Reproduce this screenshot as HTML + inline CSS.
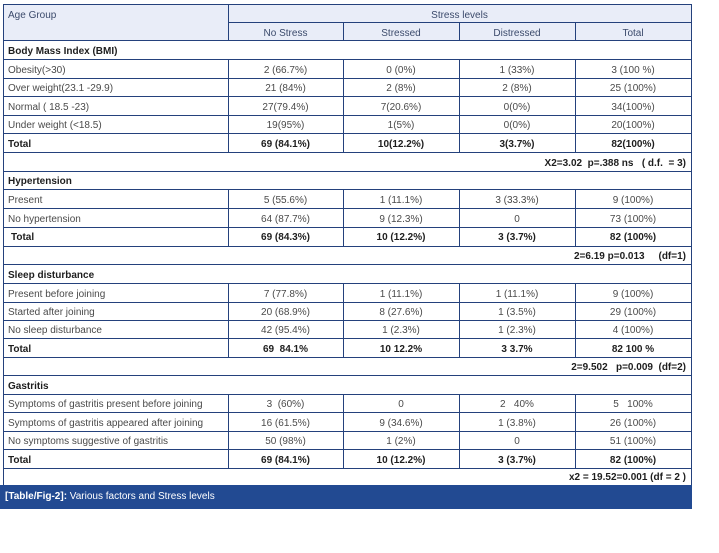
<!DOCTYPE html>
<html><head><meta charset="utf-8">
<style>
html,body{margin:0;padding:0;background:#fff;}
body{width:719px;height:553px;position:relative;overflow:hidden;font-family:"Liberation Sans",Arial,sans-serif;font-size:10px;color:#4a4a4a;}
.h{position:absolute;height:1px;background:#24417c;}
.v{position:absolute;width:1px;background:#24417c;}
.t{position:absolute;line-height:18px;height:18px;white-space:pre;margin-top:2px;}
.c{text-align:center;}
.b{font-weight:bold;color:#1e1e1e;}
.hd{color:#3b4a6b;}
.r{position:absolute;right:33px;text-align:right;line-height:18px;white-space:pre;font-weight:bold;color:#1e1e1e;margin-top:2px;}
</style></head><body>
<div style="position:absolute;left:3px;top:4px;width:689px;height:36px;background:#e9edf8;"></div>
<div style="position:absolute;left:0;top:485px;width:692px;height:24px;background:#224a92;"></div>
<div class="t" style="left:5px;top:486px;color:#fff;"><b>[Table/Fig-2]:</b> Various factors and Stress levels</div>

<!-- horizontal lines -->
<div class="h" style="left:3px;width:689px;top:4px"></div>
<div class="h" style="left:228px;width:464px;top:22px"></div>
<div class="h" style="left:3px;width:689px;top:40px"></div>
<div class="h" style="left:3px;width:689px;top:59px"></div>
<div class="h" style="left:3px;width:689px;top:78px"></div>
<div class="h" style="left:3px;width:689px;top:96px"></div>
<div class="h" style="left:3px;width:689px;top:115px"></div>
<div class="h" style="left:3px;width:689px;top:133px"></div>
<div class="h" style="left:3px;width:689px;top:152px"></div>
<div class="h" style="left:3px;width:689px;top:171px"></div>
<div class="h" style="left:3px;width:689px;top:189px"></div>
<div class="h" style="left:3px;width:689px;top:208px"></div>
<div class="h" style="left:3px;width:689px;top:227px"></div>
<div class="h" style="left:3px;width:689px;top:246px"></div>
<div class="h" style="left:3px;width:689px;top:264px"></div>
<div class="h" style="left:3px;width:689px;top:283px"></div>
<div class="h" style="left:3px;width:689px;top:302px"></div>
<div class="h" style="left:3px;width:689px;top:320px"></div>
<div class="h" style="left:3px;width:689px;top:338px"></div>
<div class="h" style="left:3px;width:689px;top:357px"></div>
<div class="h" style="left:3px;width:689px;top:375px"></div>
<div class="h" style="left:3px;width:689px;top:394px"></div>
<div class="h" style="left:3px;width:689px;top:412px"></div>
<div class="h" style="left:3px;width:689px;top:431px"></div>
<div class="h" style="left:3px;width:689px;top:449px"></div>
<div class="h" style="left:3px;width:689px;top:468px"></div>

<!-- vertical borders -->
<div class="v" style="left:3px;top:4px;height:481px"></div>
<div class="v" style="left:691px;top:4px;height:481px"></div>
<div class="v" style="left:228px;top:4px;height:36px"></div>
<div class="v" style="left:343px;top:22px;height:18px"></div>
<div class="v" style="left:459px;top:22px;height:18px"></div>
<div class="v" style="left:575px;top:22px;height:18px"></div>

<div class="v" style="left:228px;top:59px;height:93px"></div>
<div class="v" style="left:343px;top:59px;height:93px"></div>
<div class="v" style="left:459px;top:59px;height:93px"></div>
<div class="v" style="left:575px;top:59px;height:93px"></div>

<div class="v" style="left:228px;top:189px;height:57px"></div>
<div class="v" style="left:343px;top:189px;height:57px"></div>
<div class="v" style="left:459px;top:189px;height:57px"></div>
<div class="v" style="left:575px;top:189px;height:57px"></div>

<div class="v" style="left:228px;top:283px;height:74px"></div>
<div class="v" style="left:343px;top:283px;height:74px"></div>
<div class="v" style="left:459px;top:283px;height:74px"></div>
<div class="v" style="left:575px;top:283px;height:74px"></div>

<div class="v" style="left:228px;top:394px;height:74px"></div>
<div class="v" style="left:343px;top:394px;height:74px"></div>
<div class="v" style="left:459px;top:394px;height:74px"></div>
<div class="v" style="left:575px;top:394px;height:74px"></div>

<!-- header text -->
<div class="t hd" style="left:8px;top:5px">Age Group</div>
<div class="t hd c" style="left:228px;width:463px;top:5px">Stress levels</div>
<div class="t hd c" style="left:228px;width:115px;top:23px">No Stress</div>
<div class="t hd c" style="left:343px;width:116px;top:23px">Stressed</div>
<div class="t hd c" style="left:459px;width:116px;top:23px">Distressed</div>
<div class="t hd c" style="left:575px;width:116px;top:23px">Total</div>

<!-- BMI -->
<div class="t b" style="left:8px;top:41px">Body Mass Index (BMI)</div>

<div class="t" style="left:8px;top:60px">Obesity(&gt;30)</div>
<div class="t c" style="left:228px;width:115px;top:60px">2 (66.7%)</div>
<div class="t c" style="left:343px;width:116px;top:60px">0 (0%)</div>
<div class="t c" style="left:459px;width:116px;top:60px">1 (33%)</div>
<div class="t c" style="left:575px;width:116px;top:60px">3 (100 %)</div>

<div class="t" style="left:8px;top:78px">Over weight(23.1 -29.9)</div>
<div class="t c" style="left:228px;width:115px;top:78px">21 (84%)</div>
<div class="t c" style="left:343px;width:116px;top:78px">2 (8%)</div>
<div class="t c" style="left:459px;width:116px;top:78px">2 (8%)</div>
<div class="t c" style="left:575px;width:116px;top:78px">25 (100%)</div>

<div class="t" style="left:8px;top:97px">Normal ( 18.5 -23)</div>
<div class="t c" style="left:228px;width:115px;top:97px">27(79.4%)</div>
<div class="t c" style="left:343px;width:116px;top:97px">7(20.6%)</div>
<div class="t c" style="left:459px;width:116px;top:97px">0(0%)</div>
<div class="t c" style="left:575px;width:116px;top:97px">34(100%)</div>

<div class="t" style="left:8px;top:115px">Under weight (&lt;18.5)</div>
<div class="t c" style="left:228px;width:115px;top:115px">19(95%)</div>
<div class="t c" style="left:343px;width:116px;top:115px">1(5%)</div>
<div class="t c" style="left:459px;width:116px;top:115px">0(0%)</div>
<div class="t c" style="left:575px;width:116px;top:115px">20(100%)</div>

<div class="t b" style="left:8px;top:134px">Total</div>
<div class="t b c" style="left:228px;width:115px;top:134px">69 (84.1%)</div>
<div class="t b c" style="left:343px;width:116px;top:134px">10(12.2%)</div>
<div class="t b c" style="left:459px;width:116px;top:134px">3(3.7%)</div>
<div class="t b c" style="left:575px;width:116px;top:134px">82(100%)</div>

<div class="r" style="top:153px">X2=3.02  p=.388 ns   ( d.f.  = 3)</div>

<!-- Hypertension -->
<div class="t b" style="left:8px;top:171px">Hypertension</div>

<div class="t" style="left:8px;top:190px">Present</div>
<div class="t c" style="left:228px;width:115px;top:190px">5 (55.6%)</div>
<div class="t c" style="left:343px;width:116px;top:190px">1 (11.1%)</div>
<div class="t c" style="left:459px;width:116px;top:190px">3 (33.3%)</div>
<div class="t c" style="left:575px;width:116px;top:190px">9 (100%)</div>

<div class="t" style="left:8px;top:209px">No hypertension</div>
<div class="t c" style="left:228px;width:115px;top:209px">64 (87.7%)</div>
<div class="t c" style="left:343px;width:116px;top:209px">9 (12.3%)</div>
<div class="t c" style="left:459px;width:116px;top:209px">0</div>
<div class="t c" style="left:575px;width:116px;top:209px">73 (100%)</div>

<div class="t b" style="left:11px;top:227px">Total</div>
<div class="t b c" style="left:228px;width:115px;top:227px">69 (84.3%)</div>
<div class="t b c" style="left:343px;width:116px;top:227px">10 (12.2%)</div>
<div class="t b c" style="left:459px;width:116px;top:227px">3 (3.7%)</div>
<div class="t b c" style="left:575px;width:116px;top:227px">82 (100%)</div>

<div class="r" style="top:246px">2=6.19 p=0.013     (df=1)</div>

<!-- Sleep -->
<div class="t b" style="left:8px;top:265px">Sleep disturbance</div>

<div class="t" style="left:8px;top:284px">Present before joining</div>
<div class="t c" style="left:228px;width:115px;top:284px">7 (77.8%)</div>
<div class="t c" style="left:343px;width:116px;top:284px">1 (11.1%)</div>
<div class="t c" style="left:459px;width:116px;top:284px">1 (11.1%)</div>
<div class="t c" style="left:575px;width:116px;top:284px">9 (100%)</div>

<div class="t" style="left:8px;top:302px">Started after joining</div>
<div class="t c" style="left:228px;width:115px;top:302px">20 (68.9%)</div>
<div class="t c" style="left:343px;width:116px;top:302px">8 (27.6%)</div>
<div class="t c" style="left:459px;width:116px;top:302px">1 (3.5%)</div>
<div class="t c" style="left:575px;width:116px;top:302px">29 (100%)</div>

<div class="t" style="left:8px;top:320px">No sleep disturbance</div>
<div class="t c" style="left:228px;width:115px;top:320px">42 (95.4%)</div>
<div class="t c" style="left:343px;width:116px;top:320px">1 (2.3%)</div>
<div class="t c" style="left:459px;width:116px;top:320px">1 (2.3%)</div>
<div class="t c" style="left:575px;width:116px;top:320px">4 (100%)</div>

<div class="t b" style="left:8px;top:339px">Total</div>
<div class="t b c" style="left:228px;width:115px;top:339px">69  84.1%</div>
<div class="t b c" style="left:343px;width:116px;top:339px">10 12.2%</div>
<div class="t b c" style="left:459px;width:116px;top:339px">3 3.7%</div>
<div class="t b c" style="left:575px;width:116px;top:339px">82 100 %</div>

<div class="r" style="top:357px">2=9.502   p=0.009  (df=2)</div>

<!-- Gastritis -->
<div class="t b" style="left:8px;top:376px">Gastritis</div>

<div class="t" style="left:8px;top:394px">Symptoms of gastritis present before joining</div>
<div class="t c" style="left:228px;width:115px;top:394px">3  (60%)</div>
<div class="t c" style="left:343px;width:116px;top:394px">0</div>
<div class="t c" style="left:459px;width:116px;top:394px">2   40%</div>
<div class="t c" style="left:575px;width:116px;top:394px">5   100%</div>

<div class="t" style="left:8px;top:413px">Symptoms of gastritis appeared after joining</div>
<div class="t c" style="left:228px;width:115px;top:413px">16 (61.5%)</div>
<div class="t c" style="left:343px;width:116px;top:413px">9 (34.6%)</div>
<div class="t c" style="left:459px;width:116px;top:413px">1 (3.8%)</div>
<div class="t c" style="left:575px;width:116px;top:413px">26 (100%)</div>

<div class="t" style="left:8px;top:431px">No symptoms suggestive of gastritis</div>
<div class="t c" style="left:228px;width:115px;top:431px">50 (98%)</div>
<div class="t c" style="left:343px;width:116px;top:431px">1 (2%)</div>
<div class="t c" style="left:459px;width:116px;top:431px">0</div>
<div class="t c" style="left:575px;width:116px;top:431px">51 (100%)</div>

<div class="t b" style="left:8px;top:450px">Total</div>
<div class="t b c" style="left:228px;width:115px;top:450px">69 (84.1%)</div>
<div class="t b c" style="left:343px;width:116px;top:450px">10 (12.2%)</div>
<div class="t b c" style="left:459px;width:116px;top:450px">3 (3.7%)</div>
<div class="t b c" style="left:575px;width:116px;top:450px">82 (100%)</div>

<div class="r" style="top:467px">x2 = 19.52=0.001 (df = 2 )</div>
</body></html>
